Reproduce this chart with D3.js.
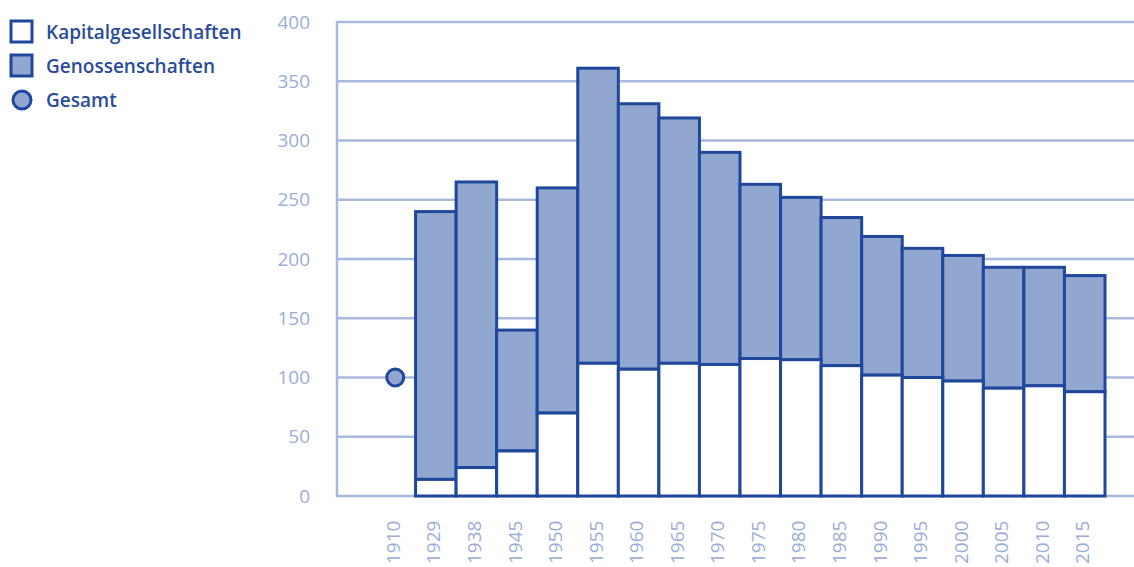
<!DOCTYPE html>
<html>
<head>
<meta charset="utf-8">
<script src="https://cdn.jsdelivr.net/npm/d3@7"></script>
<style>
  body { margin: 0; background: #fff; }
  svg { display: block; font-family: 'Open Sans', sans-serif; }
</style>
</head>
<body>
<div class="vis-chart"></div>
<script>
const years = ['1910', '1929', '1938', '1945', '1950', '1955', '1960', '1965', '1970', '1975',
    '1980', '1985', '1990', '1995', '2000', '2005', '2010', '2015'];
// null = no bar for that year
const kapital = [null, 14, 24, 38, 70, 112, 107, 112, 111, 116, 115, 110, 102, 100, 97, 91, 93, 88];
const genossen = [null, 226, 241, 102, 190, 249, 224, 207, 179, 147, 137, 125, 117, 109, 106, 102, 100, 98];
const gesamt = [{ year: '1910', value: 100 }];
const yTicks = [0, 50, 100, 150, 200, 250, 300, 350, 400];
const legendItems = [
    { label: 'Kapitalgesellschaften', type: 'rect', fill: '#fff' },
    { label: 'Genossenschaften', type: 'rect', fill: '#91a7cf' },
    { label: 'Gesamt', type: 'circle', fill: '#91a7cf' }
];

const dark = '#1f479c';
const light = '#a9b9dd';
const tickColor = '#9aadd6';

const W = 1134, H = 567;
const svg = d3.select('.vis-chart').append('svg')
    .attr('width', W).attr('height', H);

const axisX = 337;
const x = d3.scaleBand().domain(years).range([375, 1105]).padding(0);
const y = d3.scaleLinear().domain([0, 400]).range([496, 22]);

// grid
svg.append('g').selectAll('line')
    .data(yTicks)
    .enter().append('line')
    .attr('x1', axisX).attr('x2', W)
    .attr('y1', d => y(d)).attr('y2', d => y(d))
    .attr('stroke', light).attr('stroke-width', 2.5);

svg.append('line')
    .attr('x1', axisX).attr('x2', axisX)
    .attr('y1', y(400) - 1).attr('y2', y(0) + 1)
    .attr('stroke', light).attr('stroke-width', 2.5);

// y labels
svg.append('g').selectAll('text')
    .data(yTicks)
    .enter().append('text')
    .attr('x', 310).attr('y', d => y(d))
    .attr('dy', '0.35em')
    .attr('text-anchor', 'end')
    .attr('fill', tickColor)
    .style('font-size', '19px')
    .text(d => d);

// x labels
svg.append('g').selectAll('text')
    .data(years)
    .enter().append('text')
    .attr('transform', d => 'translate(' + (x(d) + x.bandwidth() / 2 - 2) + ',' + 564 + ') rotate(-90)')
    .attr('dy', '0.35em')
    .attr('text-anchor', 'start')
    .attr('fill', tickColor)
    .style('font-size', '19px')
    .text(d => d);

// stacked bars
const barData = years.map((yr, i) => ({ year: yr, k: kapital[i], g: genossen[i] }))
    .filter(d => d.k !== null);

const bars = svg.append('g');
bars.selectAll('.gen')
    .data(barData)
    .enter().append('rect')
    .attr('class', 'gen')
    .attr('x', d => x(d.year))
    .attr('width', x.bandwidth())
    .attr('y', d => y(d.k + d.g))
    .attr('height', d => y(d.k) - y(d.k + d.g))
    .attr('fill', '#91a7cf')
    .attr('stroke', dark).attr('stroke-width', 3);

bars.selectAll('.kap')
    .data(barData)
    .enter().append('rect')
    .attr('class', 'kap')
    .attr('x', d => x(d.year))
    .attr('width', x.bandwidth())
    .attr('y', d => y(d.k))
    .attr('height', d => y(0) - y(d.k))
    .attr('fill', '#fff')
    .attr('stroke', dark).attr('stroke-width', 3);

// gesamt point
svg.selectAll('.ges')
    .data(gesamt)
    .enter().append('circle')
    .attr('class', 'ges')
    .attr('cx', d => x(d.year) + x.bandwidth() / 2)
    .attr('cy', d => y(d.value))
    .attr('r', 8.5)
    .attr('fill', '#91a7cf')
    .attr('stroke', dark).attr('stroke-width', 3);

// legend
let legendG = svg.selectAll('.legend')
    .data(legendItems)
    .enter().append('g')
    .attr('class', 'legend')
    .attr('transform', (d, i) => 'translate(11,' + (21 + i * 34) + ')');

legendG.filter(d => d.type === 'rect').append('rect')
    .attr('width', 21).attr('height', 21)
    .attr('fill', d => d.fill)
    .attr('stroke', dark).attr('stroke-width', 3);

legendG.filter(d => d.type === 'circle').append('circle')
    .attr('cx', 11).attr('cy', 11).attr('r', 9)
    .attr('fill', d => d.fill)
    .attr('stroke', dark).attr('stroke-width', 3);

legendG.append('text')
    .text(d => d.label)
    .attr('x', 35).attr('y', 11)
    .attr('dy', '0.35em')
    .attr('fill', '#2b4b9b')
    .style('font-size', '19px')
    .style('font-weight', 600);
</script>
</body>
</html>
